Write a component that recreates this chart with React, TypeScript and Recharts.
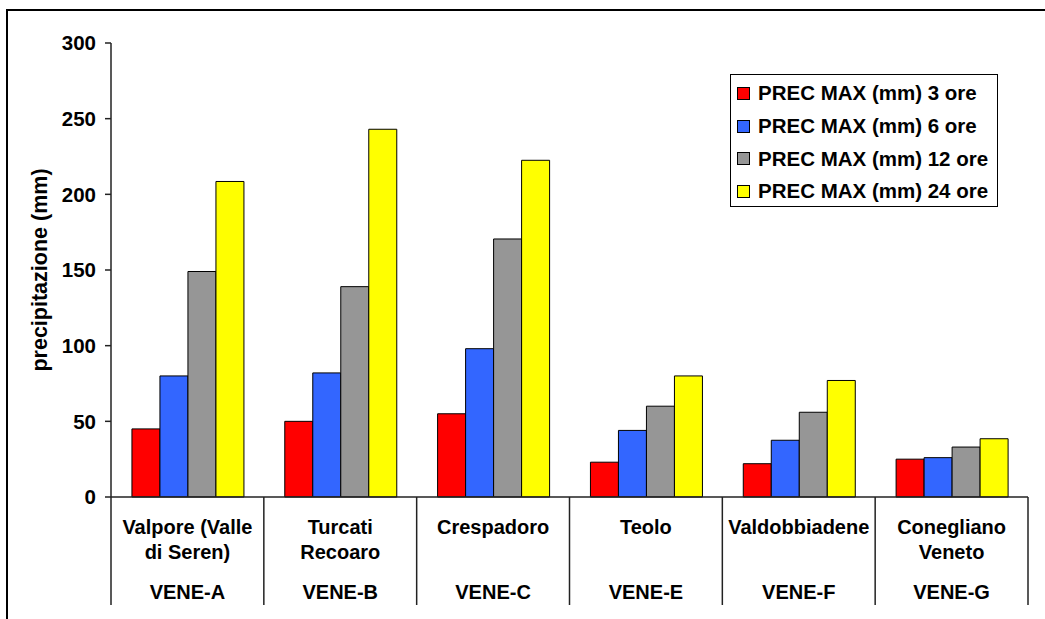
import { BarChart, Bar, XAxis, YAxis, Legend } from 'recharts'

const codes = ['VENE-A', 'VENE-B', 'VENE-C', 'VENE-E', 'VENE-F', 'VENE-G']
const stations = [
  'Valpore (Valle\ndi Seren)',
  'Turcati\nRecoaro',
  'Crespadoro',
  'Teolo',
  'Valdobbiadene',
  'Conegliano\nVeneto',
]
const prec3h = [45, 50, 55, 23, 22, 25]
const prec6h = [80, 82, 98, 44, 37.5, 26]
const prec12h = [149, 139, 170.5, 60, 56, 33]
const prec24h = [208.5, 243, 222.5, 80, 77, 38.5]
const yTicks = [0, 50, 100, 150, 200, 250, 300]

const series = [
  { key: 'h3', name: 'PREC MAX (mm) 3 ore', color: '#FF0000', values: prec3h },
  { key: 'h6', name: 'PREC MAX (mm) 6 ore', color: '#3366FF', values: prec6h },
  { key: 'h12', name: 'PREC MAX (mm) 12 ore', color: '#969696', values: prec12h },
  { key: 'h24', name: 'PREC MAX (mm) 24 ore', color: '#FFFF00', values: prec24h },
]

const data = codes.map((code, i) => {
  const row: Record<string, string | number> = { code }
  series.forEach((s) => (row[s.key] = s.values[i]))
  return row
})

const FONT = '"Liberation Sans", Arial, sans-serif'
const W = 1045
const H = 619
const M = { top: 43, right: 17, left: 0, bottom: 0 }
const Y_W = 111
const X_H = 122

function CategoryTick(props: any) {
  const { x, y, payload, index } = props
  const half = payload?.offset || (W - M.right - M.left - Y_W) / codes.length / 2
  const lines = stations[index].split('\n')
  const last = index === codes.length - 1
  return (
    <g>
      <line x1={x - half} y1={y} x2={x - half} y2={y + 108} stroke="#222" strokeWidth={1.5} />
      {last && <line x1={x + half} y1={y} x2={x + half} y2={y + 108} stroke="#222" strokeWidth={1.5} />}
      {lines.map((l: string, i: number) => (
        <text key={i} x={x} y={y + 30 + i * 24.7} dy="0.35em" textAnchor="middle" fontFamily={FONT} fontWeight="bold" fontSize={20} fill="#000">
          {l}
        </text>
      ))}
      <text x={x} y={y + 94.7} dy="0.35em" textAnchor="middle" fontFamily={FONT} fontWeight="bold" fontSize={20} fill="#000">
        {payload.value}
      </text>
    </g>
  )
}

function LegendBox() {
  return (
    <div style={{ border: '1px solid #000', background: '#fff', width: 266, height: 129, boxSizing: 'content-box', paddingTop: 2 }}>
      {series.map((s) => (
        <div key={s.key} style={{ display: 'flex', alignItems: 'center', height: 32.7, paddingLeft: 6 }}>
          <span style={{ display: 'inline-block', width: 11, height: 11, background: s.color, border: '1px solid #000', marginRight: 8 }} />
          <span style={{ fontFamily: FONT, fontWeight: 'bold', fontSize: 20.5, color: '#000', whiteSpace: 'nowrap' }}>{s.name}</span>
        </div>
      ))}
    </div>
  )
}

export default function App() {
  return (
    <div style={{ position: 'absolute', left: 0, top: 0, width: W, height: H, background: '#fff' }}>
      <div style={{ position: 'absolute', left: 6, top: 9, right: 0, bottom: 0, borderLeft: '2px solid #000', borderTop: '2px solid #000' }} />
      <div style={{ position: 'absolute', left: 0, top: 0 }}>
        <BarChart width={W} height={H} data={data} margin={M} barCategoryGap="13.7%" barGap={0}>
          <XAxis
            dataKey="code"
            height={X_H}
            tickLine={false}
            tickSize={0}
            tickMargin={0}
            axisLine={{ stroke: '#222', strokeWidth: 1.5 }}
            tick={<CategoryTick />}
            interval={0}
          />
          <YAxis
            width={Y_W}
            domain={[0, 300]}
            ticks={yTicks}
            interval={0}
            tickSize={6}
            tickMargin={9}
            axisLine={{ stroke: '#222', strokeWidth: 1.5 }}
            tickLine={{ stroke: '#222', strokeWidth: 1.5 }}
            tick={{ fontFamily: FONT, fontWeight: 'bold', fontSize: 20.5, fill: '#000' }}
            label={{
              value: 'precipitazione (mm)',
              angle: -90,
              position: 'center',
              dx: -16,
              style: { fontFamily: FONT, fontWeight: 'bold', fontSize: 21.5, fill: '#000', textAnchor: 'middle' },
            }}
          />
          <Legend
            layout="vertical"
            align="center"
            verticalAlign="middle"
            content={<LegendBox />}
            wrapperStyle={{ position: 'absolute', left: 730, top: 74, width: 'auto', height: 'auto' }}
          />
          {series.map((s) => (
            <Bar key={s.key} dataKey={s.key} name={s.name} fill={s.color} stroke="#000" strokeWidth={1} isAnimationActive={false} />
          ))}
        </BarChart>
      </div>
    </div>
  )
}
